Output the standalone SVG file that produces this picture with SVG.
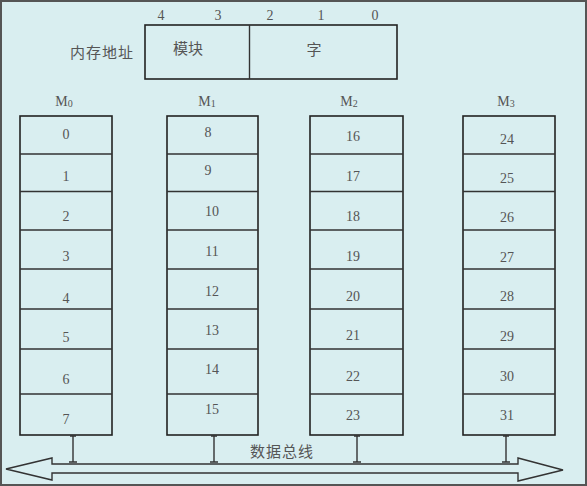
<svg xmlns="http://www.w3.org/2000/svg" width="587" height="486" viewBox="0 0 587 486">
<style>
.box{fill:#d9eef0;stroke:#222;stroke-width:1.6}
.t{font-family:"Liberation Serif","Noto Sans CJK SC",serif;font-size:14px;fill:#555;text-anchor:middle}
.c{font-family:"Noto Sans CJK SC",sans-serif;font-size:15px;fill:#555}
.m{font-family:"Liberation Serif",serif;font-size:14px;fill:#555;text-anchor:middle}
.ln{stroke:#333;stroke-width:1.4;fill:none}
</style>
<rect x="0" y="0" width="587" height="486" fill="#d9eef0"/>
<rect x="1" y="1" width="585" height="484" fill="none" stroke="#555" stroke-width="2"/>
<g id="address">
<rect class="box" x="145" y="25" width="252" height="54"/>
<line class="ln" x1="249.5" y1="25" x2="249.5" y2="79" stroke-width="1.6"/>
<text class="t" x="161" y="20">4</text>
<text class="t" x="218" y="20">3</text>
<text class="t" x="270" y="20">2</text>
<text class="t" x="321" y="20">1</text>
<text class="t" x="375" y="20">0</text>
<text class="c" x="134" y="58" text-anchor="end" letter-spacing="1">内存地址</text>
<text class="c" x="188" y="54" text-anchor="middle">模块</text>
<text class="c" x="314" y="55" text-anchor="middle">字</text>
</g>
<g id="M0">
<text class="m" x="64" y="106">M<tspan font-size="10" dy="1">0</tspan></text>
<rect class="box" x="20" y="116" width="92" height="319"/>
<path class="ln" d="M20 154H112M20 191.5H112M20 230H112M20 269H112M20 309H112M20 349H112M20 394H112" stroke-width="1.6"/>
<text class="t" x="66" y="139">0</text>
<text class="t" x="66" y="181" fill="#888">1</text>
<text class="t" x="66" y="221">2</text>
<text class="t" x="66" y="261">3</text>
<text class="t" x="66" y="303">4</text>
<text class="t" x="66" y="342">5</text>
<text class="t" x="66" y="384">6</text>
<text class="t" x="66" y="424">7</text>
</g>
<g id="M1">
<text class="m" x="207" y="106">M<tspan font-size="10" dy="1">1</tspan></text>
<rect class="box" x="167" y="116" width="91" height="319"/>
<path class="ln" d="M167 154H258M167 191.5H258M167 230H258M167 269H258M167 309H258M167 349H258M167 394H258" stroke-width="1.6"/>
<text class="t" x="208" y="137">8</text>
<text class="t" x="208" y="175">9</text>
<text class="t" x="212" y="216">10</text>
<text class="t" x="212" y="256">11</text>
<text class="t" x="212" y="296">12</text>
<text class="t" x="212" y="335">13</text>
<text class="t" x="212" y="374">14</text>
<text class="t" x="212" y="414">15</text>
</g>
<g id="M2">
<text class="m" x="349" y="106">M<tspan font-size="10" dy="1">2</tspan></text>
<rect class="box" x="310" y="116" width="93" height="319"/>
<path class="ln" d="M310 154H403M310 191.5H403M310 230H403M310 269H403M310 309H403M310 349H403M310 394H403" stroke-width="1.6"/>
<text class="t" x="353" y="141">16</text>
<text class="t" x="353" y="181">17</text>
<text class="t" x="353" y="221">18</text>
<text class="t" x="353" y="261">19</text>
<text class="t" x="353" y="301">20</text>
<text class="t" x="353" y="340">21</text>
<text class="t" x="353" y="381">22</text>
<text class="t" x="353" y="420">23</text>
</g>
<g id="M3">
<text class="m" x="506" y="106">M<tspan font-size="10" dy="1">3</tspan></text>
<rect class="box" x="463" y="116" width="92" height="319"/>
<path class="ln" d="M463 154H555M463 191.5H555M463 230H555M463 269H555M463 309H555M463 349H555M463 394H555" stroke-width="1.6"/>
<text class="t" x="507" y="144">24</text>
<text class="t" x="507" y="183">25</text>
<text class="t" x="507" y="222">26</text>
<text class="t" x="507" y="262">27</text>
<text class="t" x="507" y="301">28</text>
<text class="t" x="507" y="341">29</text>
<text class="t" x="507" y="381">30</text>
<text class="t" x="507" y="420">31</text>
</g>
<g id="bus">
<path d="M6 469L52 458V464H518V458L563 470L518 481V473H52V480Z" fill="#d9eef0" stroke="#333" stroke-width="1.4"/>
<text class="c" x="250" y="457" letter-spacing="1">数据总线</text>
</g>
<g id="connectors">
<path class="ln" d="M73 436V462M69 462H77M214 436V462M210 462H218M357 436V462M353 462H361M506 436V462M502 462H510"/>
<path class="ln" d="M70 436H76M211 436H217M354 436H360M503 436H509"/>
</g>
</svg>
